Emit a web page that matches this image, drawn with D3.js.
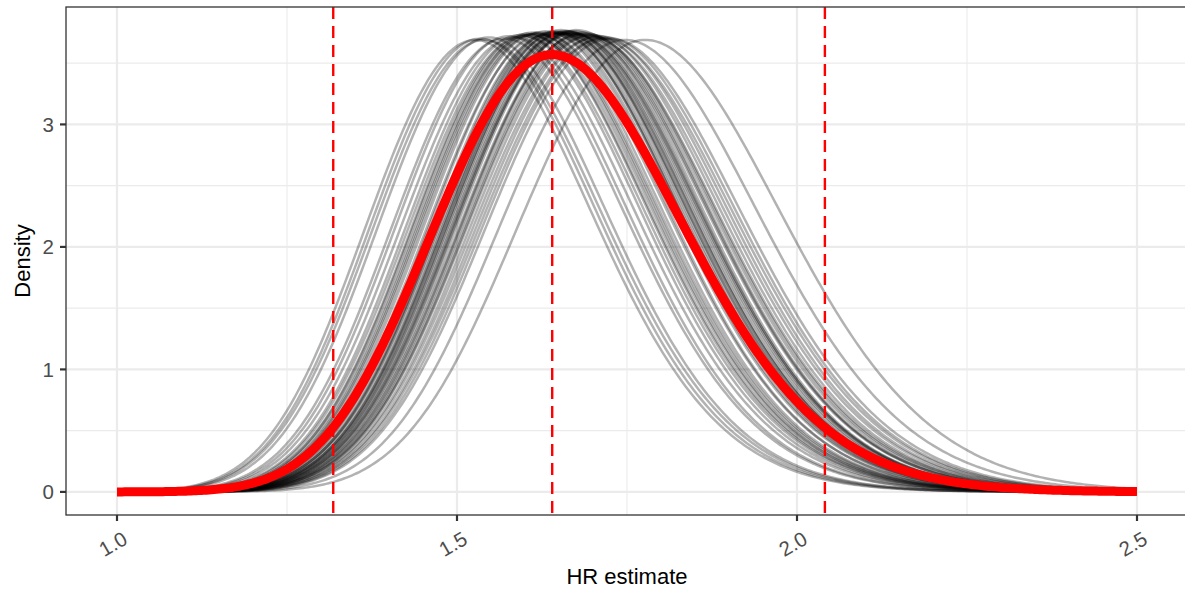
<!DOCTYPE html>
<html>
<head>
<meta charset="utf-8">
<script src="https://cdn.jsdelivr.net/npm/d3@7"></script>
<style>
  body { margin: 0; background: #fff; }
  svg { display: block; font-family: "Liberation Sans", Arial, sans-serif; }
</style>
</head>
<body>
<script>
// per-imputation curves: HR at the peak and peak density height
var curveCentres = [1.527, 1.534, 1.540, 1.547, 1.570, 1.576, 1.585, 1.593, 1.598, 1.603,
                    1.605, 1.609, 1.612, 1.615, 1.618, 1.622, 1.628, 1.631, 1.637, 1.640,
                    1.644, 1.645, 1.647, 1.650, 1.653, 1.655, 1.656, 1.659, 1.660, 1.662,
                    1.665, 1.668, 1.670, 1.672, 1.673, 1.676, 1.681, 1.683, 1.685, 1.689,
                    1.692, 1.694, 1.699, 1.704, 1.709, 1.714, 1.719, 1.725, 1.747, 1.777];
var curvePeaks = [3.69, 3.70, 3.69, 3.71, 3.70, 3.72, 3.71, 3.73, 3.72, 3.74,
                  3.73, 3.73, 3.75, 3.74, 3.74, 3.75, 3.73, 3.76, 3.74, 3.75,
                  3.76, 3.75, 3.74, 3.75, 3.77, 3.74, 3.75, 3.74, 3.76, 3.76,
                  3.75, 3.75, 3.74, 3.74, 3.76, 3.77, 3.73, 3.74, 3.75, 3.74,
                  3.73, 3.72, 3.73, 3.71, 3.72, 3.70, 3.71, 3.70, 3.69, 3.69];

// pooled estimate
var pooledCentre = 1.64;
var pooledPeak = 3.57;
var pooledLines = [1.318, 1.640, 2.041];   // lower CI, estimate, upper CI

var xTicks = [1.0, 1.5, 2.0, 2.5];
var xMinor = [1.25, 1.75, 2.25];
var yTicks = [0, 1, 2, 3];
var yMinor = [0.5, 1.5, 2.5, 3.5];
var xRange = [1.0, 2.5];

var svgW = 1185, svgH = 590;
var margin = {left: 66, top: 7, right: -3, bottom: 75};

var svg = d3.select("body").append("svg")
    .attr("width", svgW)
    .attr("height", svgH);

// density of log(HR) plotted against HR
var curvePoints = function(centre, peak) {
    var mu = Math.log(centre);
    var sd = 1 / (peak * Math.sqrt(2 * Math.PI));
    return d3.range(0, 401).map(function(i) {
        var x = xRange[0] + (xRange[1] - xRange[0]) * i / 400;
        var z = (Math.log(x) - mu) / sd;
        return [x, peak * Math.exp(-0.5 * z * z)];
    });
};

var curves = curveCentres.map(function(c, i) { return curvePoints(c, curvePeaks[i]); });
var pooled = curvePoints(pooledCentre, pooledPeak);

var xSpan = xRange[1] - xRange[0];
var xScale = d3.scaleLinear()
    .domain([xRange[0] - 0.05 * xSpan, xRange[1] + 0.05 * xSpan])
    .range([margin.left, svgW - margin.right]);

var yMax = d3.max(curvePeaks);
var yScale = d3.scaleLinear()
    .domain([-0.05 * yMax, 1.05 * yMax])
    .range([svgH - margin.bottom, margin.top]);

var panelW = svgW - margin.right - margin.left;
var panelH = svgH - margin.bottom - margin.top;

svg.append("clipPath").attr("id", "panel")
    .append("rect")
    .attr("x", margin.left).attr("y", margin.top)
    .attr("width", panelW).attr("height", panelH);

// grid
var grid = svg.append("g").attr("clip-path", "url(#panel)");
grid.selectAll(".xminor").data(xMinor).enter().append("line")
    .attr("x1", function(d) { return xScale(d); })
    .attr("x2", function(d) { return xScale(d); })
    .attr("y1", margin.top).attr("y2", margin.top + panelH)
    .attr("stroke", "#ebebeb").attr("stroke-width", 1.1);
grid.selectAll(".yminor").data(yMinor).enter().append("line")
    .attr("y1", function(d) { return yScale(d); })
    .attr("y2", function(d) { return yScale(d); })
    .attr("x1", margin.left).attr("x2", margin.left + panelW)
    .attr("stroke", "#ebebeb").attr("stroke-width", 1.1);
grid.selectAll(".xmajor").data(xTicks).enter().append("line")
    .attr("x1", function(d) { return xScale(d); })
    .attr("x2", function(d) { return xScale(d); })
    .attr("y1", margin.top).attr("y2", margin.top + panelH)
    .attr("stroke", "#ebebeb").attr("stroke-width", 2.2);
grid.selectAll(".ymajor").data(yTicks).enter().append("line")
    .attr("y1", function(d) { return yScale(d); })
    .attr("y2", function(d) { return yScale(d); })
    .attr("x1", margin.left).attr("x2", margin.left + panelW)
    .attr("stroke", "#ebebeb").attr("stroke-width", 2.2);

var line = d3.line()
    .x(function(d) { return xScale(d[0]); })
    .y(function(d) { return yScale(d[1]); });

var plot = svg.append("g").attr("clip-path", "url(#panel)");

plot.selectAll(".imp").data(curves).enter().append("path")
    .attr("d", line)
    .attr("fill", "none")
    .attr("stroke", "#000")
    .attr("stroke-opacity", 0.3)
    .attr("stroke-width", 2.5);

plot.append("path")
    .attr("d", line(pooled))
    .attr("fill", "none")
    .attr("stroke", "#ff0000")
    .attr("stroke-width", 9)
    .attr("stroke-linecap", "butt");

plot.selectAll(".ci").data(pooledLines).enter().append("line")
    .attr("x1", function(d) { return xScale(d); })
    .attr("x2", function(d) { return xScale(d); })
    .attr("y1", margin.top).attr("y2", margin.top + panelH)
    .attr("stroke", "#ff0000")
    .attr("stroke-width", 2.4)
    .attr("stroke-dasharray", "12,7");

// panel border
svg.append("rect")
    .attr("x", margin.left).attr("y", margin.top)
    .attr("width", panelW).attr("height", panelH)
    .attr("fill", "none")
    .attr("stroke", "#333333")
    .attr("stroke-width", 1.3);

// axes
var xAxis = svg.append("g");
xAxis.selectAll("line").data(xTicks).enter().append("line")
    .attr("x1", function(d) { return xScale(d); })
    .attr("x2", function(d) { return xScale(d); })
    .attr("y1", margin.top + panelH).attr("y2", margin.top + panelH + 6)
    .attr("stroke", "#333333").attr("stroke-width", 2.2);
xAxis.selectAll("text").data(xTicks).enter().append("text")
    .attr("transform", function(d) {
        return "translate(" + (xScale(d) + 12) + "," + 543 + ") rotate(-30)";
    })
    .attr("text-anchor", "end")
    .attr("font-size", 20.5)
    .attr("fill", "#4d4d4d")
    .text(function(d) { return d3.format(".1f")(d); });

var yAxis = svg.append("g");
yAxis.selectAll("line").data(yTicks).enter().append("line")
    .attr("y1", function(d) { return yScale(d); })
    .attr("y2", function(d) { return yScale(d); })
    .attr("x1", margin.left - 6).attr("x2", margin.left)
    .attr("stroke", "#333333").attr("stroke-width", 2.2);
yAxis.selectAll("text").data(yTicks).enter().append("text")
    .attr("x", margin.left - 12)
    .attr("y", function(d) { return yScale(d); })
    .attr("dy", "0.36em")
    .attr("text-anchor", "end")
    .attr("font-size", 20.5)
    .attr("fill", "#4d4d4d")
    .text(function(d) { return d; });

svg.append("text")
    .attr("x", xScale(1.75))
    .attr("y", 584)
    .attr("text-anchor", "middle")
    .attr("font-size", 22)
    .attr("fill", "#000")
    .text("HR estimate");

svg.append("text")
    .attr("transform", "translate(30," + (margin.top + panelH / 2) + ") rotate(-90)")
    .attr("text-anchor", "middle")
    .attr("font-size", 22)
    .attr("fill", "#000")
    .text("Density");
</script>
</body>
</html>
